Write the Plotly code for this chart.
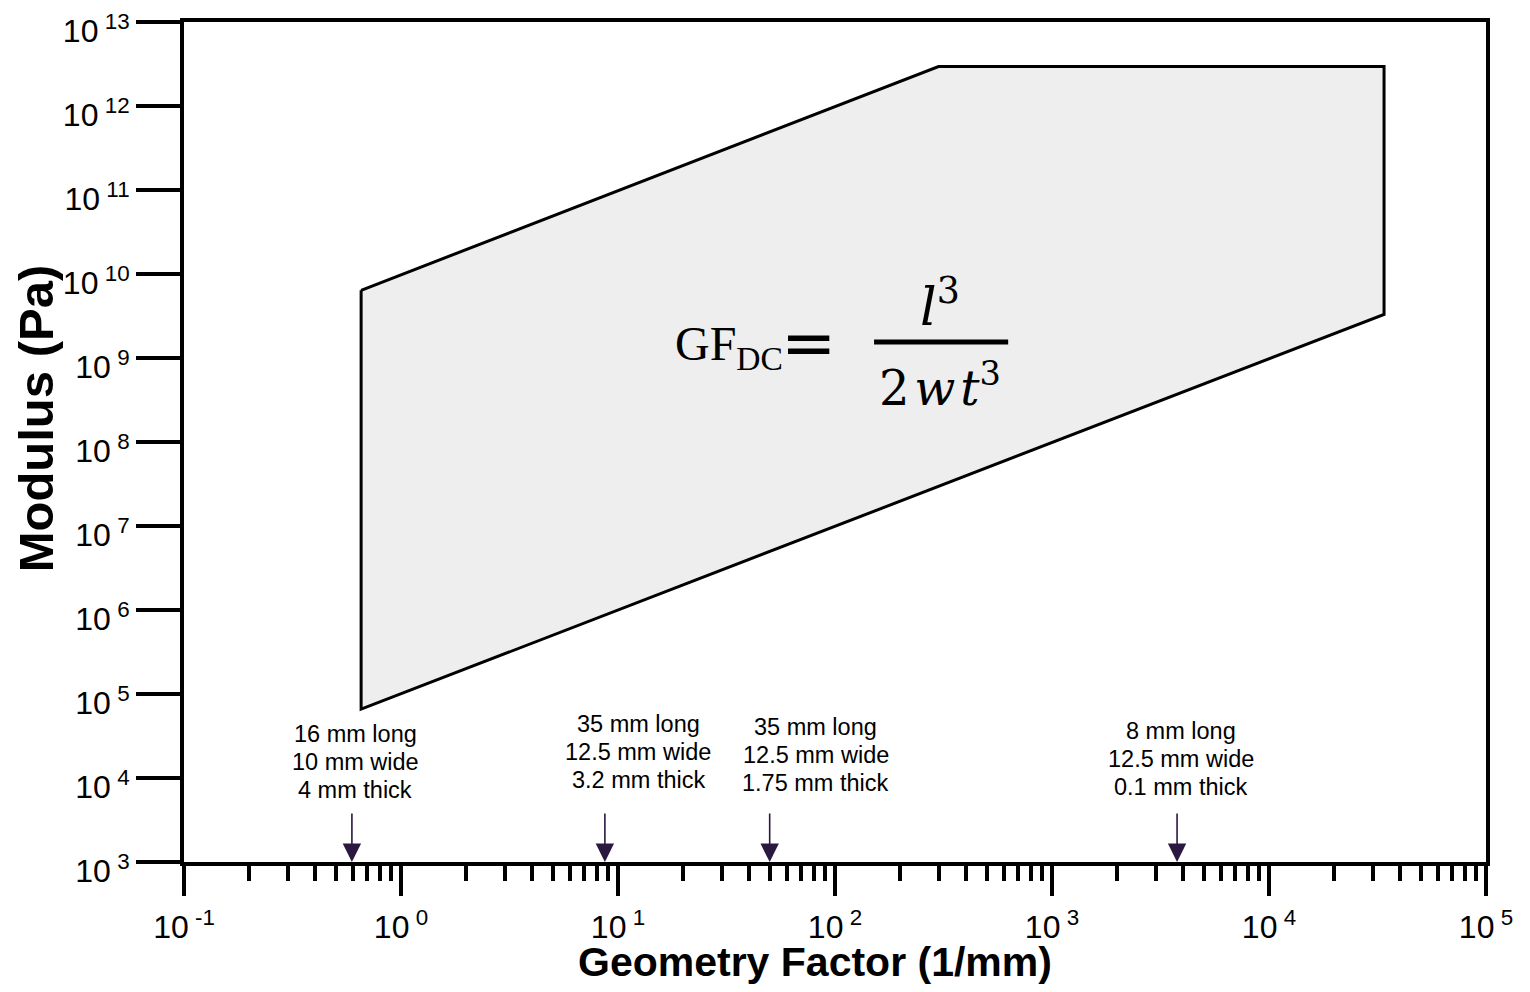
import math
import plotly.graph_objects as go

# Region boundary (Geometry factor, Modulus)
region_gf = [0.655, 300, 33900, 33900, 0.655, 0.655]
region_mod = [6.4e9, 2.95e12, 2.95e12, 3.3e9, 6.6e4, 6.4e9]

# Specimen geometry markers
spec_gf = [0.594, 8.7, 50, 3770]
spec_lines = [
    ["16 mm long", "10 mm wide", "4 mm thick"],
    ["35 mm long", "12.5 mm wide", "3.2 mm thick"],
    ["35 mm long", "12.5 mm wide", "1.75 mm thick"],
    ["8 mm long", "12.5 mm wide", "0.1 mm thick"],
]
spec_label_x = [0.614, 12.4, 81.7, 3926]
spec_label_y = [10**4.19, 10**4.31, 10**4.27, 10**4.23]

x_exps = [-1, 0, 1, 2, 3, 4, 5]
y_exps = [3, 4, 5, 6, 7, 8, 9, 10, 11, 12, 13]

FONT = "Liberation Sans, Arial, sans-serif"
SERIF = "Liberation Serif, serif"
MATH = "DejaVu Serif, serif"

fig = go.Figure()
fig.add_trace(go.Scatter(
    x=region_gf, y=region_mod, mode="lines", fill="toself",
    fillcolor="#eeeeee", line=dict(color="black", width=3),
    showlegend=False, hoverinfo="skip",
))

minor_x = [m * 10**e for e in range(-1, 5) for m in range(2, 10)]

fig.update_xaxes(
    type="log", range=[-1, 5], automargin=False,
    tickvals=[10**e for e in x_exps],
    ticktext=[f"10<sup> {e}</sup>" for e in x_exps],
    ticks="outside", ticklen=30, tickwidth=4, tickcolor="black",
    showline=True, linewidth=4, linecolor="black", mirror=True,
    showgrid=False, zeroline=False, ticklabeloverflow="allow",
    ticklabelstandoff=4,
    tickfont=dict(family=FONT, size=32, color="black"),
    minor=dict(tickmode="array", tickvals=minor_x, ticks="outside",
               ticklen=15, tickwidth=4, tickcolor="black", showgrid=False),
)
fig.update_yaxes(
    type="log", range=[3, 13], automargin=False,
    tickvals=[10**e for e in y_exps],
    ticktext=[f"10<sup> {e}</sup>" for e in y_exps],
    ticks="outside", ticklen=44, tickwidth=4, tickcolor="black",
    showline=True, linewidth=4, linecolor="black", mirror=True,
    showgrid=False, zeroline=False, ticklabeloverflow="allow",
    ticklabelshift=9,
    tickfont=dict(family=FONT, size=32, color="black"),
)

annotations = []
for gx in spec_gf:
    annotations.append(dict(
        x=math.log10(gx), y=3, xref="x", yref="y", text="",
        showarrow=True, ax=0, ay=-50, arrowhead=2, arrowsize=2.3,
        arrowwidth=1.6, arrowcolor="#2a1840", standoff=0,
    ))
for lx, ly, lines in zip(spec_label_x, spec_label_y, spec_lines):
    for i, t in enumerate(lines):
        annotations.append(dict(
            x=math.log10(lx), y=math.log10(ly), xref="x", yref="y", text=t,
            showarrow=False, font=dict(family=FONT, size=23.5, color="black"),
            align="center", xanchor="center", yanchor="middle",
            yshift=(1 - i) * 28,
        ))

# Axis titles
annotations.append(dict(
    x=0.4846, y=-0.1185, xref="paper", yref="paper",
    text="<b>Geometry Factor (1/mm)</b>", showarrow=False,
    font=dict(family=FONT, size=41, color="black"),
    xanchor="center", yanchor="middle",
))
annotations.append(dict(
    x=-0.1130, y=0.528, xref="paper", yref="paper",
    text="<b>Modulus (Pa)</b>", showarrow=False, textangle=-90,
    font=dict(family=FONT, size=49, color="black"),
    xanchor="center", yanchor="middle",
))

# Formula
annotations.append(dict(
    x=0.4186, y=0.613, xref="paper", yref="paper",
    text="GF<sub>DC</sub>", showarrow=False,
    font=dict(family=SERIF, size=48, color="black"),
    xanchor="center", yanchor="middle",
))
annotations.append(dict(
    x=0.480, y=0.619, xref="paper", yref="paper",
    text="=", showarrow=False,
    font=dict(family="DejaVu Sans, sans-serif", size=66, color="black"),
    xanchor="center", yanchor="middle",
))
annotations.append(dict(
    x=0.5806, y=0.6655, xref="paper", yref="paper",
    text="<i>l</i><sup>3</sup>", showarrow=False,
    font=dict(family=MATH, size=52, color="black"),
    xanchor="center", yanchor="middle",
))
annotations.append(dict(
    x=0.5806, y=0.568, xref="paper", yref="paper",
    text="2\u200a<i>w</i>\u200a<i>t</i><sup>3</sup>", showarrow=False,
    font=dict(family=MATH, size=48, color="black"),
    xanchor="center", yanchor="middle",
))

shapes = [dict(type="line", xref="paper", yref="paper",
               x0=0.530, x1=0.633, y0=0.619, y1=0.619,
               line=dict(color="black", width=5))]

fig.update_layout(
    width=1514, height=976,
    margin=dict(l=176, r=36, t=14, b=122),
    plot_bgcolor="white", paper_bgcolor="white",
    annotations=annotations, shapes=shapes,
    showlegend=False,
)

fig.write_html("out.html")
